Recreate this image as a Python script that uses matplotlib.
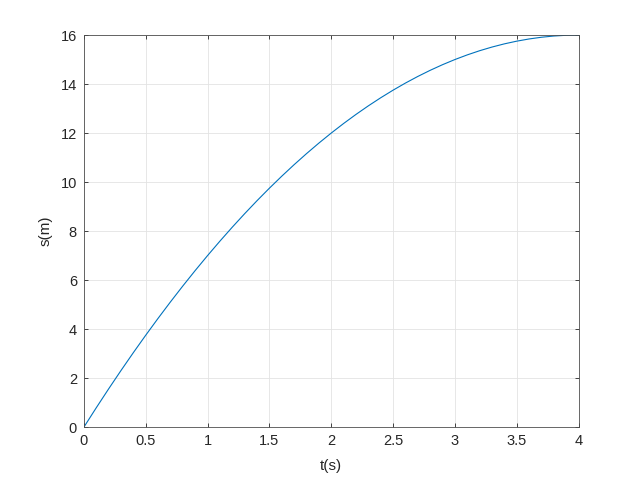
import matplotlib.pyplot as plt

# values
t = [0, 0.1, 0.2, 0.3, 0.4, 0.5, 0.6, 0.7, 0.8, 0.9, 1.0,
     1.1, 1.2, 1.3, 1.4, 1.5, 1.6, 1.7, 1.8, 1.9, 2.0,
     2.1, 2.2, 2.3, 2.4, 2.5, 2.6, 2.7, 2.8, 2.9, 3.0,
     3.1, 3.2, 3.3, 3.4, 3.5, 3.6, 3.7, 3.8, 3.9, 4.0]
s = [0, 0.79, 1.56, 2.31, 3.04, 3.75, 4.44, 5.11, 5.76, 6.39, 7.0,
     7.59, 8.16, 8.71, 9.24, 9.75, 10.24, 10.71, 11.16, 11.59, 12.0,
     12.39, 12.76, 13.11, 13.44, 13.75, 14.04, 14.31, 14.56, 14.79, 15.0,
     15.19, 15.36, 15.51, 15.64, 15.75, 15.84, 15.91, 15.96, 15.99, 16.0]

xticks = [0, 0.5, 1, 1.5, 2, 2.5, 3, 3.5, 4]
xticklabels = ['0', '0.5', '1', '1.5', '2', '2.5', '3', '3.5', '4']
yticks = [0, 2, 4, 6, 8, 10, 12, 14, 16]

plt.rcParams['font.family'] = ['Liberation Sans', 'DejaVu Sans']

fig = plt.figure(figsize=(6.4, 4.8), dpi=100)
ax = fig.add_axes([0.131, 0.110, 0.773, 0.817])

ax.plot(t, s, color='#0072BD', linewidth=0.8)

ax.set_xlim(0, 4)
ax.set_ylim(0, 16)
ax.set_xticks(xticks)
ax.set_xticklabels(xticklabels)
ax.set_yticks(yticks)
ax.set_xlabel('t(s)', fontsize=11, color='#262626', labelpad=8)
ax.set_ylabel('s(m)', fontsize=11, color='#262626', labelpad=6)

ax.grid(True, color='#e3e3e3', linewidth=0.6)
ax.set_axisbelow(True)
ax.tick_params(direction='in', length=3, width=0.6, colors='#262626',
               labelsize=10.5, top=True, right=True, pad=5)
for sp in ax.spines.values():
    sp.set_color('#4d4d4d')
    sp.set_linewidth(0.6)

fig.savefig('out.png', dpi=100)
